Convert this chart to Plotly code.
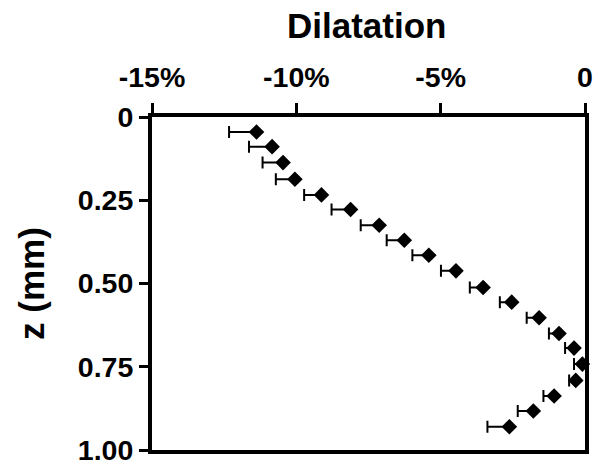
import plotly.graph_objects as go

# Dilatation profile versus depth (mean values with left-sided error bars)
depth_mm = [0.045, 0.089, 0.137, 0.187, 0.234, 0.278, 0.325, 0.370, 0.415, 0.462,
            0.512, 0.556, 0.603, 0.650, 0.694, 0.742, 0.791, 0.838, 0.883, 0.930]
dilatation_pct = [-11.38, -10.84, -10.46, -10.05, -9.13, -8.12, -7.13, -6.26, -5.41, -4.47,
                  -3.53, -2.54, -1.59, -0.90, -0.38, -0.09, -0.32, -1.07, -1.79, -2.62]
error_pct = [0.95, 0.80, 0.71, 0.66, 0.60, 0.66, 0.64, 0.61, 0.57, 0.52,
             0.46, 0.41, 0.43, 0.35, 0.31, 0.29, 0.23, 0.37, 0.54, 0.76]

x_tick_vals = [-15, -10, -5, 0]
x_tick_text = ["-15%", "-10%", "-5%", "0"]
y_tick_vals = [0, 0.25, 0.5, 0.75, 1.0]
y_tick_text = ["0", "0.25", "0.50", "0.75", "1.00"]

FONT = "Liberation Sans, Arial, sans-serif"
TICK_FONT = dict(size=28.5, family=FONT, weight="bold", color="black")
TITLE_FONT = dict(size=35, family=FONT, weight="bold", color="black")

fig = go.Figure(
    go.Scatter(
        x=dilatation_pct,
        y=depth_mm,
        mode="markers",
        marker=dict(symbol="diamond", size=12, color="black"),
        error_x=dict(
            type="data",
            symmetric=False,
            array=[0] * len(error_pct),
            arrayminus=error_pct,
            color="black",
            thickness=2,
            width=6,
        ),
        cliponaxis=False,
        showlegend=False,
    )
)

fig.update_layout(
    width=598,
    height=465,
    margin=dict(l=152, r=13, t=117, b=15, autoexpand=False),
    paper_bgcolor="white",
    plot_bgcolor="white",
    font=dict(family=FONT, color="black", size=28, weight="bold"),
    xaxis=dict(
        side="top",
        range=[-15, 0],
        tickvals=x_tick_vals,
        ticktext=x_tick_text,
        ticks="outside",
        ticklen=10,
        tickwidth=3,
        tickcolor="black",
        ticklabelstandoff=5,
        ticklabeloverflow="allow",
        automargin=False,
        showline=True,
        linewidth=4,
        linecolor="black",
        mirror=True,
        showgrid=False,
        zeroline=False,
        tickfont=TICK_FONT,
    ),
    yaxis=dict(
        range=[1.0, 0],
        tickvals=y_tick_vals,
        ticktext=y_tick_text,
        ticks="outside",
        ticklen=9,
        tickwidth=3,
        tickcolor="black",
        ticklabeloverflow="allow",
        automargin=False,
        showline=True,
        linewidth=4,
        linecolor="black",
        mirror=True,
        showgrid=False,
        zeroline=False,
        tickfont=TICK_FONT,
        title=dict(text="z (mm)", font=TITLE_FONT, standoff=24),
    ),
    annotations=[
        dict(
            text="Dilatation",
            xref="paper", yref="paper",
            x=0.5, y=1,
            xanchor="center", yanchor="bottom",
            xshift=-2, yshift=70,
            showarrow=False,
            font=TITLE_FONT,
        )
    ],
)

fig.write_html("out.html")
